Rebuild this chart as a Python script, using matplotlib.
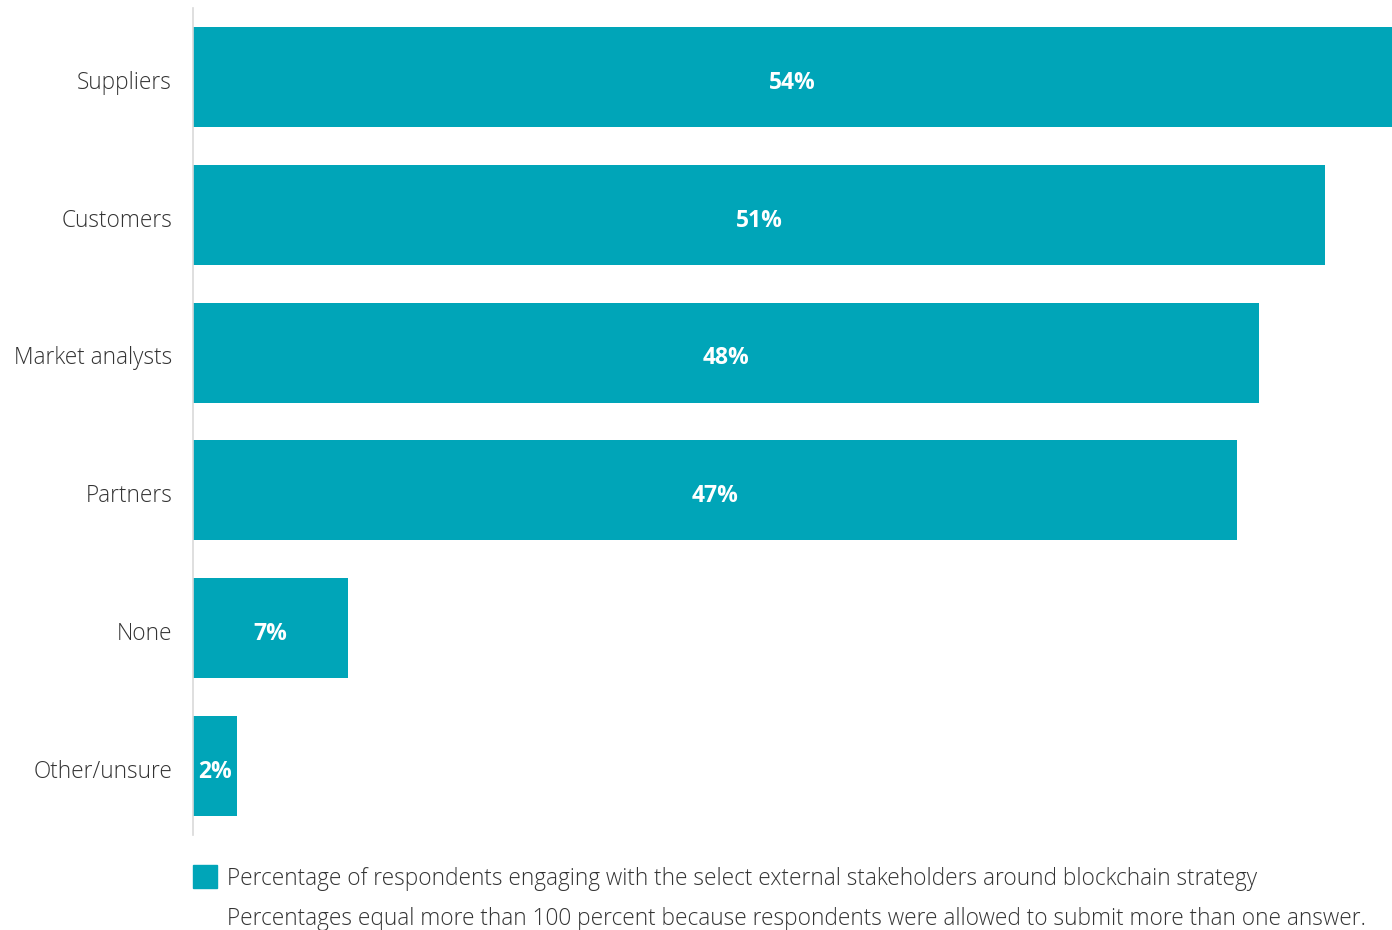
import matplotlib
matplotlib.use("Agg")
import matplotlib.pyplot as plt

# data
categories = ["Suppliers", "Customers", "Market analysts", "Partners", "None", "Other/unsure"]
values = [54, 51, 48, 47, 7, 2]
legend_text = "Percentage of respondents engaging with the select external stakeholders around blockchain strategy"
note_text = "Percentages equal more than 100 percent because respondents were allowed to submit more than one answer."

teal = "#00A5B8"
txt = "#333333"

plt.rcParams['font.family'] = ['Open Sans', 'DejaVu Sans']

W, H = 1392, 930
fig = plt.figure(figsize=(W / 100, H / 100), dpi=100)
ax = fig.add_axes([193 / W, 1 - 835 / H, 1 - 193 / W, (835 - 8) / H])

pos = list(range(len(categories)))
ax.barh(pos, values, height=0.726, color=teal)
ax.set_xlim(0, 54)
ax.set_ylim(5.5, -0.5)

for p, v in zip(pos, values):
    ax.text(v / 2, p + 0.02, f"{v}%", ha="center", va="center_baseline", color="white",
            fontsize=16.5, fontweight="bold")

ax.set_yticks([p + 0.02 for p in pos])
ax.set_yticklabels(categories, fontsize=16.3, color=txt, fontweight="light",
                   va="center_baseline")
ax.tick_params(axis="y", length=0, pad=15)
ax.set_xticks([])
for s in ["top", "right", "bottom"]:
    ax.spines[s].set_visible(False)
ax.spines["left"].set_color("#d9d9d9")
ax.spines["left"].set_linewidth(1.2)

# legend
fig.patches.append(plt.Rectangle((193 / W, 1 - 888 / H), 24 / W, 23 / H,
                                 transform=fig.transFigure, color=teal))
fig.text(227 / W, 1 - 879 / H, legend_text, fontsize=16.3, color=txt,
         fontweight="light", va="center", ha="left")
fig.text(227 / W, 1 - 919 / H, note_text, fontsize=16.3, color=txt,
         fontweight="light", va="center", ha="left")

fig.savefig("out.png", dpi=100)
